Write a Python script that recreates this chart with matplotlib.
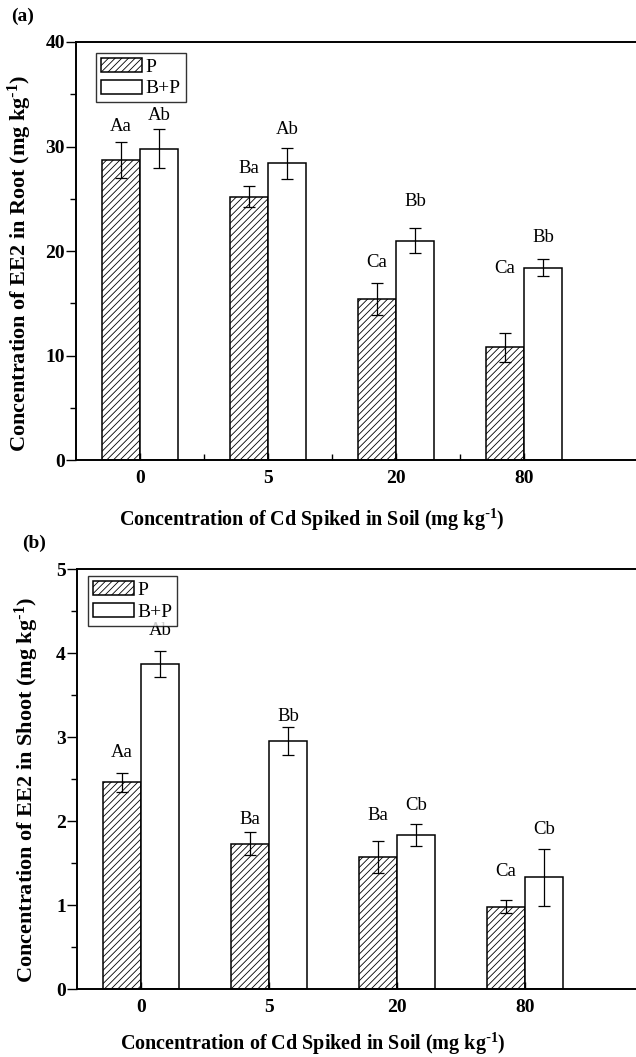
import numpy as np
import matplotlib
matplotlib.use("Agg")
import matplotlib.pyplot as plt
from matplotlib.ticker import MultipleLocator, FixedLocator

plt.rcParams['font.family'] = ['Liberation Serif', 'DejaVu Serif']
plt.rcParams['mathtext.default'] = 'regular'
plt.rcParams['hatch.linewidth'] = 0.6

cd_levels = ['0', '5', '20', '80']
series = ['P', 'B+P']

# panel (a): root
root_p = [28.7, 25.2, 15.4, 10.8]
root_p_err = [1.7, 1.0, 1.5, 1.4]
root_bp = [29.8, 28.4, 21.0, 18.4]
root_bp_err = [1.9, 1.5, 1.2, 0.8]
root_p_letters = ['Aa', 'Ba', 'Ca', 'Ca']
root_bp_letters = ['Ab', 'Ab', 'Bb', 'Bb']
root_p_label_y = [31.9, 27.9, 18.9, 18.3]
root_bp_label_y = [33.0, 31.6, 24.7, 21.3]

# panel (b): shoot
shoot_p = [2.46, 1.73, 1.57, 0.98]
shoot_p_err = [0.11, 0.14, 0.19, 0.08]
shoot_bp = [3.87, 2.95, 1.83, 1.33]
shoot_bp_err = [0.15, 0.17, 0.13, 0.34]
shoot_p_letters = ['Aa', 'Ba', 'Ba', 'Ca']
shoot_bp_letters = ['Ab', 'Bb', 'Cb', 'Cb']
shoot_p_label_y = [2.82, 2.02, 2.06, 1.40]
shoot_bp_label_y = [4.27, 3.24, 2.19, 1.90]

W, H = 636, 1057
fig = plt.figure(figsize=(W / 100, H / 100), dpi=100)

unit = r' (mg kg$^{\text{-}1}$)'


def make_panel(rect, p, p_err, bp, bp_err, p_let, bp_let, p_ly, bp_ly,
               ymax, ystep, ylabel, tag, tag_xy, leg_anchor, xminor,
               ylab_xy, xlab_y):
    ax = fig.add_axes(rect)
    x = np.arange(1, len(cd_levels) + 1)
    w = 0.3
    ax.bar(x - w / 2, p, w, color='white', edgecolor='black', hatch='/////',
           linewidth=1.1, label=series[0])
    ax.bar(x + w / 2, bp, w, color='white', edgecolor='black',
           linewidth=1.1, label=series[1])
    ax.errorbar(x - w / 2, p, yerr=p_err, fmt='none', ecolor='black',
                elinewidth=0.9, capsize=4.5, capthick=0.9)
    ax.errorbar(x + w / 2, bp, yerr=bp_err, fmt='none', ecolor='black',
                elinewidth=0.9, capsize=4.5, capthick=0.9)
    for i in range(len(x)):
        ax.text(x[i] - w / 2, p_ly[i], p_let[i], ha='center', va='center', fontsize=13.5)
        ax.text(x[i] + w / 2, bp_ly[i], bp_let[i], ha='center', va='center', fontsize=13.5)

    ax.set_xlim(0.5, 5.0)
    ax.set_ylim(0, ymax)
    ax.set_xticks(x)
    ax.set_xticklabels(cd_levels, fontsize=14, fontweight='bold')
    if xminor:
        ax.xaxis.set_minor_locator(FixedLocator(x[:-1] + 0.5))
    ax.yaxis.set_major_locator(MultipleLocator(ystep))
    ax.yaxis.set_minor_locator(MultipleLocator(ystep / 2))
    ax.tick_params(axis='x', which='both', direction='in', length=5, width=1, pad=7)
    ax.tick_params(axis='x', which='minor', length=4)
    ax.tick_params(axis='y', which='major', direction='out', length=7, width=1, pad=1)
    ax.tick_params(axis='y', which='minor', direction='out', length=4, width=1)
    for lab in ax.get_yticklabels():
        lab.set_fontweight('bold')
        lab.set_fontsize(14)
    ax.spines['right'].set_visible(False)
    for s in ['left', 'bottom', 'top']:
        ax.spines[s].set_linewidth(1.4)

    ax.set_ylabel(ylabel + unit, fontsize=16, fontweight='bold')
    ax.yaxis.set_label_coords(ylab_xy[0], ylab_xy[1])
    # x labels sit left of the axes centre in the reference
    ax.set_xlabel('Concentration of Cd Spiked in Soil' + unit,
                  fontsize=14.5, fontweight='bold')
    ax.xaxis.set_label_coords(0.41, xlab_y)

    leg = ax.legend(loc='upper left', bbox_to_anchor=leg_anchor, borderaxespad=0,
                    fontsize=14, frameon=True, fancybox=False, edgecolor='black',
                    handlelength=2.1, handleheight=0.75, labelspacing=0.2,
                    handletextpad=0.2, borderpad=0.25)
    leg.get_frame().set_linewidth(1.0)
    fig.text(tag_xy[0], tag_xy[1], tag, fontsize=14, fontweight='bold',
             ha='left', va='center')
    return ax


ax_w = 576 / W
make_panel([76 / W, 1 - 460 / H, ax_w, 418 / H],
           root_p, root_p_err, root_bp, root_bp_err,
           root_p_letters, root_bp_letters, root_p_label_y, root_bp_label_y,
           40, 10, 'Concentration of EE2 in Root', '(a)',
           (11 / W, 1 - 16 / H), (0.035, 0.974), True, (-0.073, 0.47), -0.113)

make_panel([77 / W, 1 - 989 / H, ax_w, 420 / H],
           shoot_p, shoot_p_err, shoot_bp, shoot_bp_err,
           shoot_p_letters, shoot_bp_letters, shoot_p_label_y, shoot_bp_label_y,
           5, 1, 'Concentration of EE2 in Shoot', '(b)',
           (22 / W, 1 - 543 / H), (0.019, 0.983), False, (-0.063, 0.474), -0.099)

fig.savefig('out.png', dpi=100)
